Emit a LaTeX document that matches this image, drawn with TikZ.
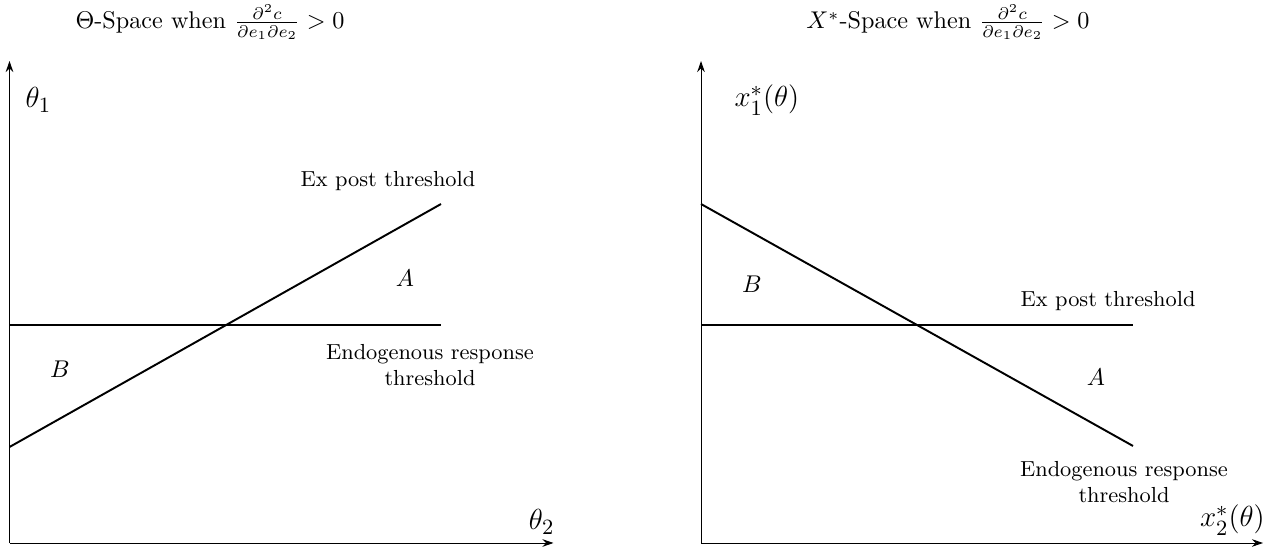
\documentclass[tikz,border=0pt]{standalone}
\usepackage{amsmath}
\usepackage{amssymb}
\usetikzlibrary{%
	calc,%
	arrows.meta,%
	positioning,%
}
\tikzset{
	>=Stealth,%
	nodes={align=center},%
	axis/.style={-{Stealth[length=1.6mm,width=1.1mm]}},%
	thresh/.style={thick},%
	lbl/.style={font=\small},%
	axlbl/.style={font=\fontsize{13}{15}\selectfont},%
	region/.style={inner sep=0},%
}

\begin{document}
\begin{tikzpicture}
	\useasboundingbox (-0.138,-0.073) rectangle (18.321,7.886);

	% Theta space
	\coordinate (lo) at (0,0);
	\coordinate (ly) at (0,7.0);
	\coordinate (lx) at (7.9,0);
	\draw[axis] (lo) -- (ly);
	\draw[axis] (lo) -- (lx);

	\node (ltitle) at (2.912,7.566) {$\Theta$-Space when $\frac{\partial^2 c}{\partial e_1 \partial e_2} > 0$};
	\node[axlbl] (ltheta1) at (0.42,6.434) {$\theta_1$};
	\node[axlbl] (ltheta2) at (7.73,0.305) {$\theta_2$};

	\coordinate (lendoa) at (0,3.166);
	\coordinate (lendob) at (6.267,3.166);
	\coordinate (lexa) at (0,1.394);
	\coordinate (lexb) at (6.267,4.923);
	\draw[thresh] (lendoa) -- (lendob);
	\draw[thresh] (lexa) -- (lexb);

	\node[lbl] (lex) at (5.497,5.257) {Ex post threshold};
	\node[lbl] (lendo) at (6.107,2.585) {Endogenous response\\threshold};
	\node[region] (la) at (5.744,3.849) {$A$};
	\node[region] (lb) at (0.733,2.527) {$B$};

	% X* space
	\coordinate (ro) at (10.043,0);
	\coordinate (ry) at (10.043,7.0);
	\coordinate (rx) at (18.205,0);
	\draw[axis] (ro) -- (ry);
	\draw[axis] (ro) -- (rx);

	\node (rtitle) at (13.63,7.566) {$X^*$-Space when $\frac{\partial^2 c}{\partial e_1 \partial e_2} > 0$};
	\node[axlbl] (rx1) at (11.0,6.434) {$x_1^*(\theta)$};
	\node[axlbl] (rx2) at (17.76,0.334) {$x_2^*(\theta)$};

	\coordinate (rexa) at (10.043,3.166);
	\coordinate (rexb) at (16.317,3.166);
	\coordinate (rendoa) at (10.043,4.923);
	\coordinate (rendob) at (16.317,1.409);
	\draw[thresh] (rexa) -- (rexb);
	\draw[thresh] (rendoa) -- (rendob);

	\node[lbl] (rex) at (15.955,3.515) {Ex post threshold};
	\node[lbl] (rendo) at (16.186,0.886) {Endogenous response\\threshold};
	\node[region] (ra) at (15.78,2.411) {$A$};
	\node[region] (rb) at (10.783,3.761) {$B$};
\end{tikzpicture}
\end{document}
